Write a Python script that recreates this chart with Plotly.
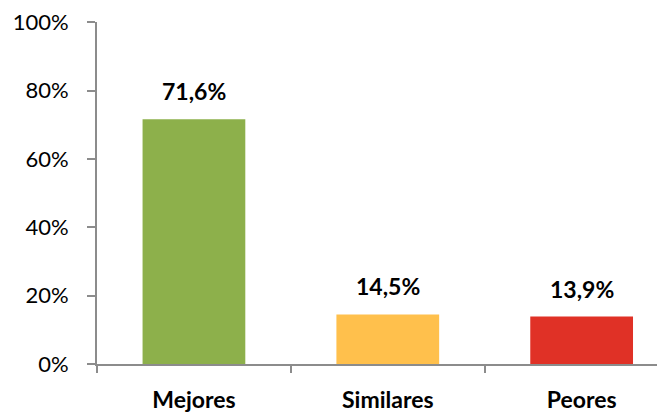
import plotly.graph_objects as go

categories = ["Mejores", "Similares", "Peores"]
values = [71.6, 14.5, 13.9]
value_labels = ["71,6%", "14,5%", "13,9%"]
bar_colors = ["#8DB04B", "#FFC04C", "#E03126"]

AXIS = "#8C8C8C"
FONT = "Lato, 'Open Sans', sans-serif"
# page body adds an 8px margin, so the figure is shrunk by that much
PAGE_PAD = 8

fig = go.Figure(go.Bar(
    x=categories, y=values, marker=dict(color=bar_colors, line=dict(width=0)),
    width=0.53, showlegend=False, hoverinfo="skip",
))

for cat, v, lab in zip(categories, values, value_labels):
    fig.add_annotation(
        x=cat, y=v, text=f"<b>{lab}</b>", showarrow=False,
        yanchor="bottom", yshift=12,
        font=dict(family=FONT, size=23, color="#000000"),
    )

fig.update_xaxes(
    range=[-0.5, 2.43], showline=True, linecolor=AXIS, linewidth=2,
    ticks="outside", tickson="boundaries", ticklen=7, tickcolor=AXIS, tickwidth=2,
    ticklabelstandoff=14, showgrid=False, zeroline=False,
    tickfont=dict(family=FONT, size=23, color="#000000", weight="bold"),
)
fig.update_yaxes(
    range=[0, 100.1], tickvals=[0, 20, 40, 60, 80, 100],
    ticktext=["0%", "20%", "40%", "60%", "80%", "100%"],
    showline=True, linecolor=AXIS, linewidth=2,
    ticks="outside", ticklen=8, tickcolor=AXIS, tickwidth=2,
    ticklabelstandoff=14, ticklabeloverflow="allow",
    showgrid=False, zeroline=False,
    tickfont=dict(family=FONT, size=22, color="#000000"),
)

fig.update_layout(
    width=665 - PAGE_PAD, height=412 - PAGE_PAD,
    margin=dict(l=97 - PAGE_PAD, r=0, t=22 - PAGE_PAD, b=48, autoexpand=False),
    plot_bgcolor="white", paper_bgcolor="white", bargap=0.47,
)

fig.write_html("out.html")
